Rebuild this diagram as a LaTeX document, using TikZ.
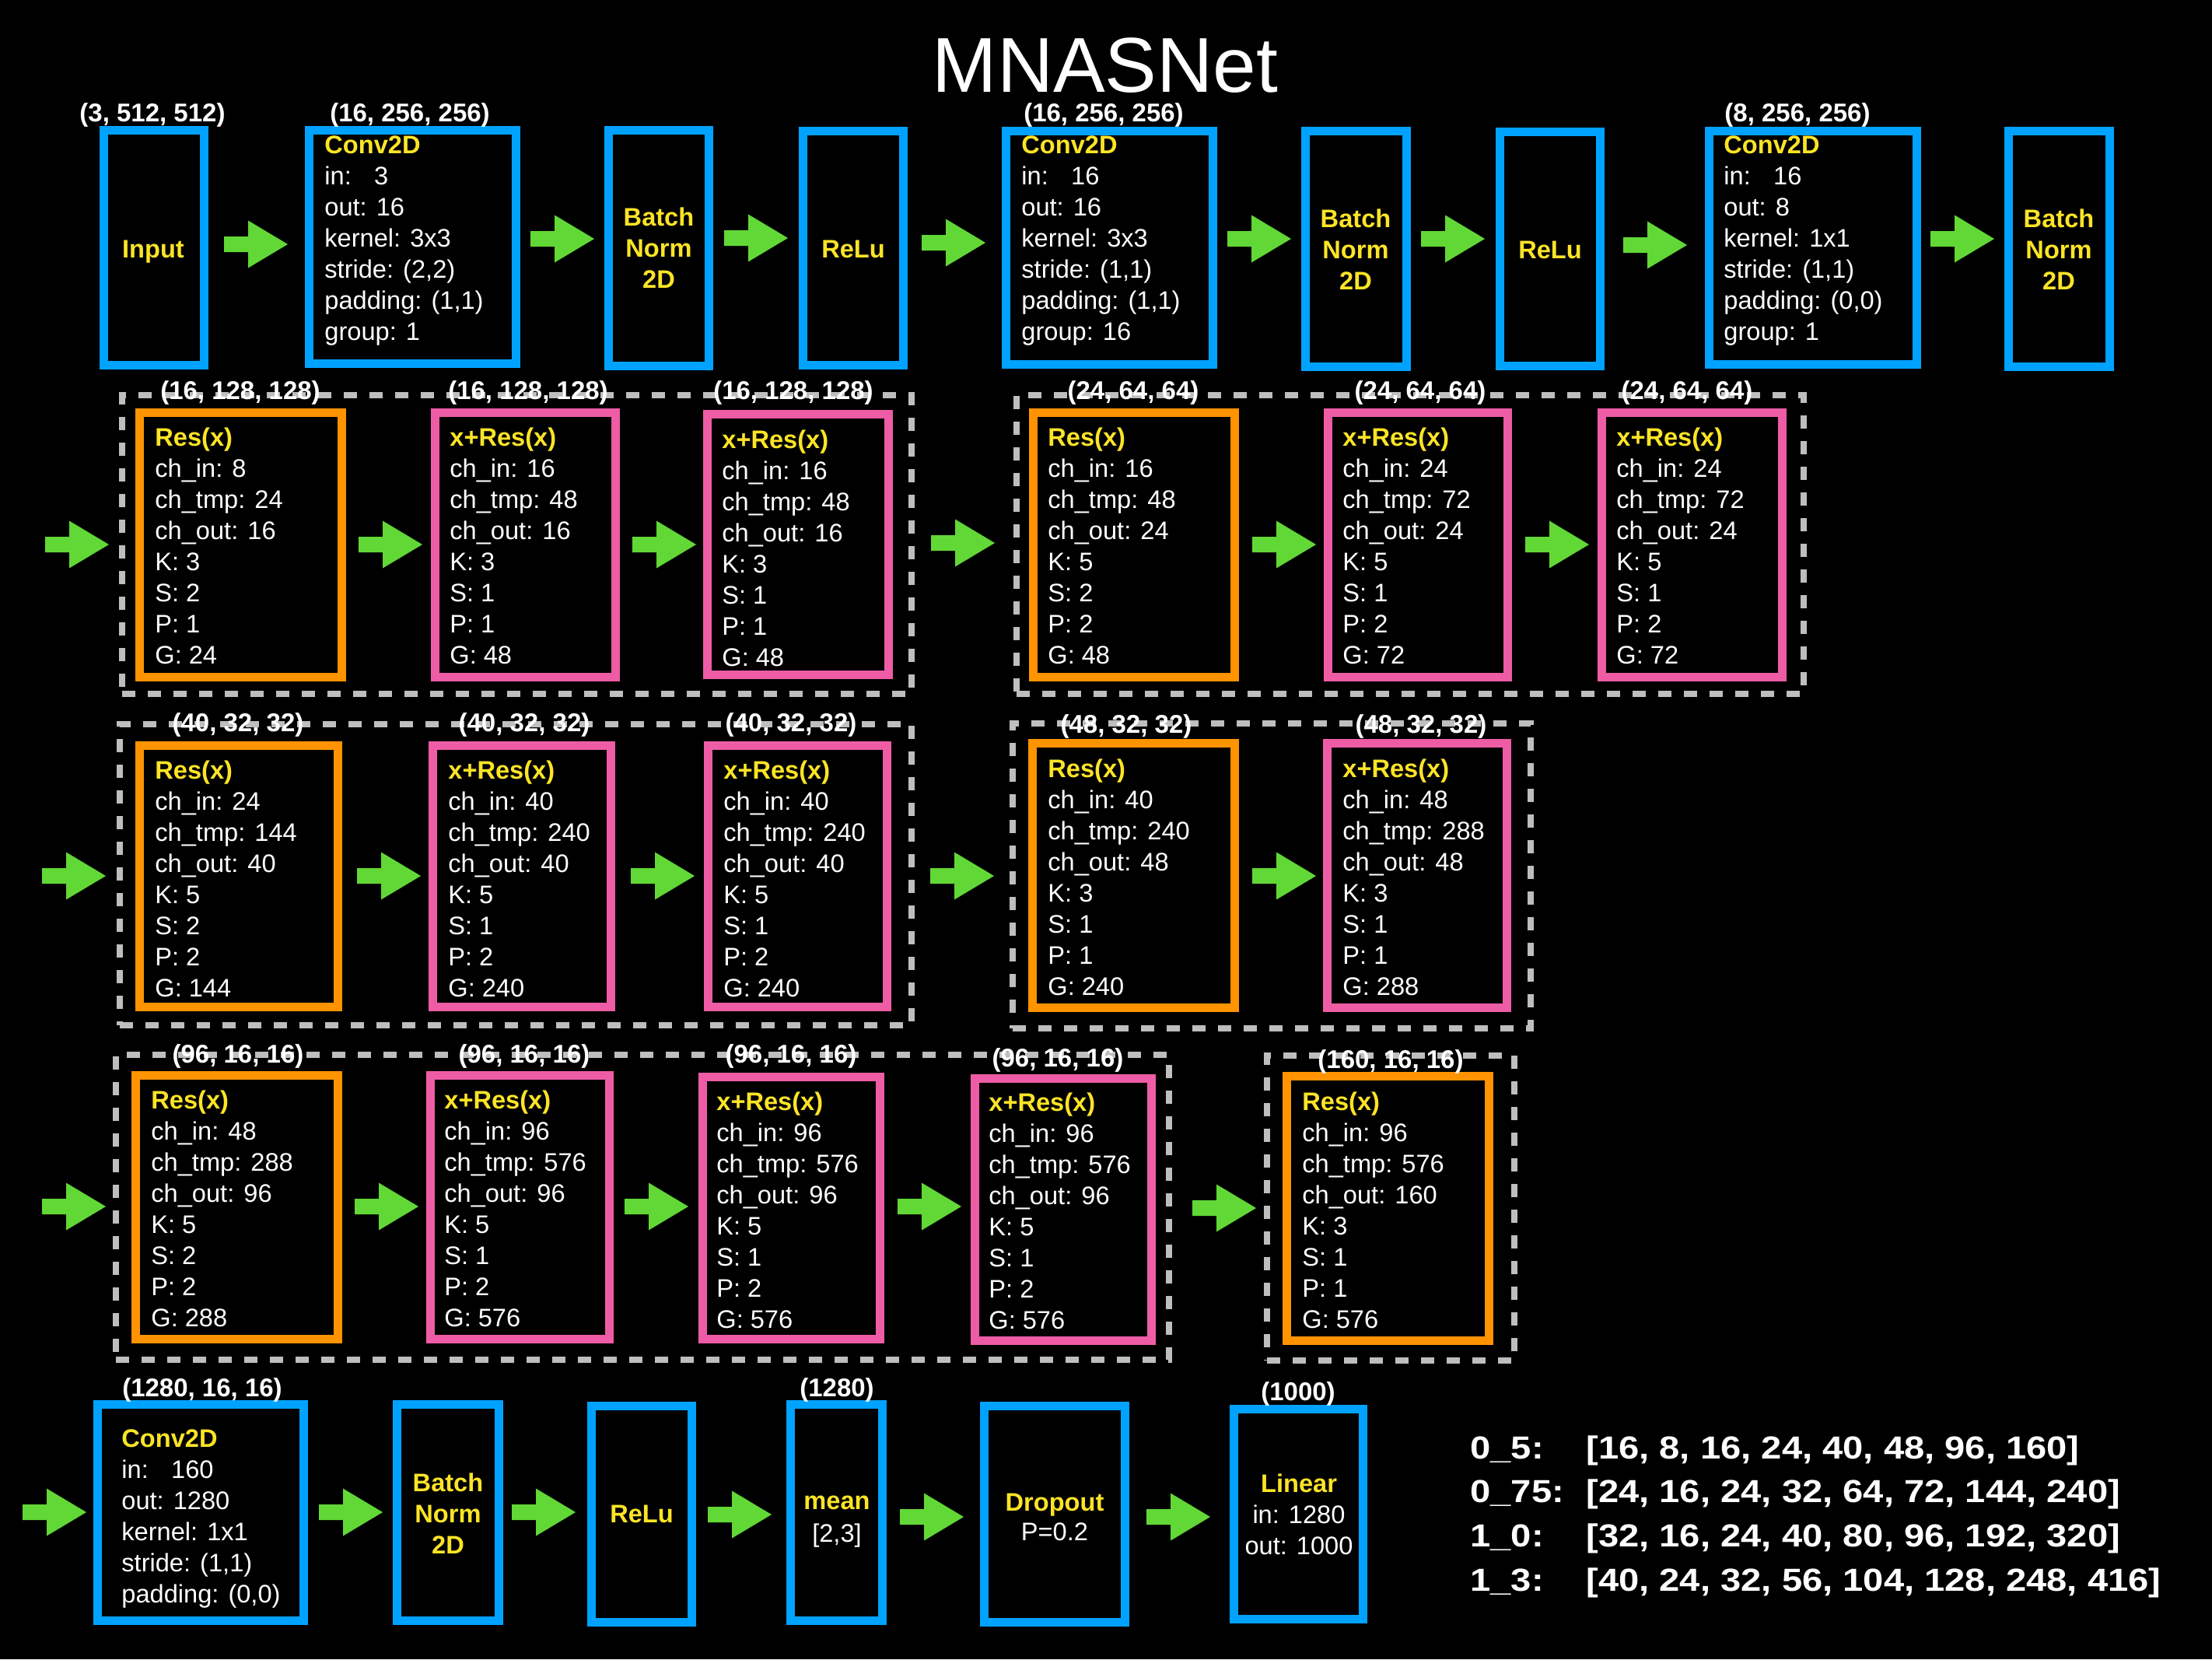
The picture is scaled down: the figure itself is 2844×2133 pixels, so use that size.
\documentclass[tikz,border=0pt]{standalone}
\usepackage{fontspec}
\setmainfont{Liberation Sans}
\newfontfamily\legendfamily[FakeStretch=1.15]{Liberation Sans}

\definecolor{mblue}{RGB}{0,162,255}
\definecolor{morange}{RGB}{255,147,0}
\definecolor{mpink}{RGB}{238,92,166}
\definecolor{myellow}{RGB}{252,228,38}
\definecolor{mgreen}{RGB}{97,216,54}
\definecolor{mgray}{RGB}{190,190,190}

\newcommand\bodyfont{\fontsize{16.3}{20}\selectfont}
\newcommand\lblfont{\fontsize{16.5}{20}\selectfont\bfseries}
\newcommand\hd{\bfseries\color{myellow}}
\newcommand\wt{\mdseries\color{white}}
\newcommand\boxlines[1]{\begin{tabular}[t]{@{}l@{}}#1\end{tabular}}
\newcommand\cboxlines[1]{\begin{tabular}[t]{@{}c@{}}#1\end{tabular}}
% box from outer corners: name, x1, y1, x2, y2, style
\newcommand\mpanel[6]{%
  \node[#6, minimum width={(#4-#2-11)*0.5pt}, minimum height={(#5-#3-11)*0.5pt}]
    (#1) at ({(#2+#4)/2},{(#3+#5)/2}) {};}
% dashed group frame from outer corners
\newcommand\mgroup[5]{%
  \node[groupbox, minimum width={(#4-#2-8)*0.5pt}, minimum height={(#5-#3-8)*0.5pt}]
    (#1) at ({(#2+#4)/2},{(#3+#5)/2}) {};}

\begin{document}
\begin{tikzpicture}[x=0.5pt,y=-0.5pt,
  panel/.style={line width=5.5pt, inner sep=0pt, outer sep=0pt},
  bluebox/.style={panel, draw=mblue},
  orangebox/.style={panel, draw=morange},
  pinkbox/.style={panel, draw=mpink},
  groupbox/.style={draw=mgray, line width=4pt, dash pattern=on 8.5pt off 8pt, inner sep=0pt, outer sep=0pt},
  txt/.style={anchor=base west, inner sep=0pt, text=white, font=\bodyfont},
  ctxt/.style={anchor=base, inner sep=0pt, text=myellow, font=\bodyfont\bfseries},
  lbl/.style={anchor=base, inner sep=0pt, text=white, font=\lblfont},
  blockarrow/.pic={\fill[mgreen] (0,-10) -- (31,-10) -- (31,-30.5) -- (82,0) -- (31,30.5) -- (31,10) -- (0,10) -- cycle;}
]
\fill[black] (0,0) rectangle (2844,2133);
\useasboundingbox (0,0) rectangle (2844,2133);

% title
\node[anchor=base, inner sep=0pt, text=white, font=\fontsize{50}{60}\selectfont] (title) at (1421,118) {MNASNet};

% ---------- dashed stage frames ----------
\mgroup{g2a}{153}{504}{1176}{896}
\mgroup{g2b}{1303}{504}{2323}{896}
\mgroup{g3a}{150}{927}{1176}{1322}
\mgroup{g3b}{1298}{926}{1972}{1326}
\mgroup{g4a}{145}{1352}{1507}{1752}
\mgroup{g4b}{1625}{1353}{1951}{1753}

% ---------- row 1: stem ----------
\mpanel{in0}{128}{162}{268}{475}{bluebox}
\mpanel{conv1}{392}{162}{669}{473}{bluebox}
\mpanel{bn1}{777}{162}{917}{476}{bluebox}
\mpanel{relu1}{1027}{163}{1167}{475}{bluebox}
\mpanel{conv2}{1288}{163}{1565}{474}{bluebox}
\mpanel{bn2}{1673}{163}{1814}{477}{bluebox}
\mpanel{relu2}{1923}{164}{2063}{476}{bluebox}
\mpanel{conv3}{2192}{163}{2470}{474}{bluebox}
\mpanel{bn3}{2577}{163}{2718}{477}{bluebox}

\node[ctxt] (in0t) at (197,331) {Input};
\node[txt] (conv1t) at (417,197) {\boxlines{{\hd Conv2D}\\in:\hspace{0.9em}3\\out: 16\\kernel: 3x3\\stride: (2,2)\\padding: (1,1)\\group: 1}};
\node[ctxt] (bn1t) at (847,290) {\cboxlines{Batch\\Norm\\2D}};
\node[ctxt] (relu1t) at (1097,331) {ReLu};
\node[txt] (conv2t) at (1313,197) {\boxlines{{\hd Conv2D}\\in:\hspace{0.9em}16\\out: 16\\kernel: 3x3\\stride: (1,1)\\padding: (1,1)\\group: 16}};
\node[ctxt] (bn2t) at (1743,292) {\cboxlines{Batch\\Norm\\2D}};
\node[ctxt] (relu2t) at (1993,332) {ReLu};
\node[txt] (conv3t) at (2216,197) {\boxlines{{\hd Conv2D}\\in:\hspace{0.9em}16\\out: 8\\kernel: 1x1\\stride: (1,1)\\padding: (0,0)\\group: 1}};
\node[ctxt] (bn3t) at (2647,292) {\cboxlines{Batch\\Norm\\2D}};

% ---------- row 2 ----------
\mpanel{r2a}{174}{525}{445}{876}{orangebox}
\mpanel{r2b}{554}{525}{797}{876}{pinkbox}
\mpanel{r2c}{904}{527}{1148}{873}{pinkbox}
\mpanel{r2d}{1323}{525}{1593}{876}{orangebox}
\mpanel{r2e}{1702}{525}{1944}{876}{pinkbox}
\mpanel{r2f}{2054}{525}{2297}{876}{pinkbox}

\node[txt] (r2at) at (199,573) {\boxlines{{\hd Res(x)}\\ch\_in: 8\\ch\_tmp: 24\\ch\_out: 16\\K: 3\\S: 2\\P: 1\\G: 24}};
\node[txt] (r2bt) at (578,573) {\boxlines{{\hd x+Res(x)}\\ch\_in: 16\\ch\_tmp: 48\\ch\_out: 16\\K: 3\\S: 1\\P: 1\\G: 48}};
\node[txt] (r2ct) at (928,576) {\boxlines{{\hd x+Res(x)}\\ch\_in: 16\\ch\_tmp: 48\\ch\_out: 16\\K: 3\\S: 1\\P: 1\\G: 48}};
\node[txt] (r2dt) at (1347,573) {\boxlines{{\hd Res(x)}\\ch\_in: 16\\ch\_tmp: 48\\ch\_out: 24\\K: 5\\S: 2\\P: 2\\G: 48}};
\node[txt] (r2et) at (1726,573) {\boxlines{{\hd x+Res(x)}\\ch\_in: 24\\ch\_tmp: 72\\ch\_out: 24\\K: 5\\S: 1\\P: 2\\G: 72}};
\node[txt] (r2ft) at (2078,573) {\boxlines{{\hd x+Res(x)}\\ch\_in: 24\\ch\_tmp: 72\\ch\_out: 24\\K: 5\\S: 1\\P: 2\\G: 72}};

% ---------- row 3 ----------
\mpanel{r3a}{174}{953}{440}{1300}{orangebox}
\mpanel{r3b}{551}{953}{791}{1300}{pinkbox}
\mpanel{r3c}{905}{953}{1146}{1300}{pinkbox}
\mpanel{r3d}{1322}{950}{1593}{1301}{orangebox}
\mpanel{r3e}{1701}{950}{1943}{1301}{pinkbox}

\node[txt] (r3at) at (199,1001) {\boxlines{{\hd Res(x)}\\ch\_in: 24\\ch\_tmp: 144\\ch\_out: 40\\K: 5\\S: 2\\P: 2\\G: 144}};
\node[txt] (r3bt) at (576,1001) {\boxlines{{\hd x+Res(x)}\\ch\_in: 40\\ch\_tmp: 240\\ch\_out: 40\\K: 5\\S: 1\\P: 2\\G: 240}};
\node[txt] (r3ct) at (930,1001) {\boxlines{{\hd x+Res(x)}\\ch\_in: 40\\ch\_tmp: 240\\ch\_out: 40\\K: 5\\S: 1\\P: 2\\G: 240}};
\node[txt] (r3dt) at (1347,999) {\boxlines{{\hd Res(x)}\\ch\_in: 40\\ch\_tmp: 240\\ch\_out: 48\\K: 3\\S: 1\\P: 1\\G: 240}};
\node[txt] (r3et) at (1726,999) {\boxlines{{\hd x+Res(x)}\\ch\_in: 48\\ch\_tmp: 288\\ch\_out: 48\\K: 3\\S: 1\\P: 1\\G: 288}};

% ---------- row 4 ----------
\mpanel{r4a}{169}{1377}{440}{1727}{orangebox}
\mpanel{r4b}{548}{1377}{789}{1727}{pinkbox}
\mpanel{r4c}{898}{1379}{1137}{1727}{pinkbox}
\mpanel{r4d}{1248}{1381}{1486}{1729}{pinkbox}
\mpanel{r4e}{1649}{1378}{1920}{1729}{orangebox}

\node[txt] (r4at) at (194,1425) {\boxlines{{\hd Res(x)}\\ch\_in: 48\\ch\_tmp: 288\\ch\_out: 96\\K: 5\\S: 2\\P: 2\\G: 288}};
\node[txt] (r4bt) at (571,1425) {\boxlines{{\hd x+Res(x)}\\ch\_in: 96\\ch\_tmp: 576\\ch\_out: 96\\K: 5\\S: 1\\P: 2\\G: 576}};
\node[txt] (r4ct) at (921,1427) {\boxlines{{\hd x+Res(x)}\\ch\_in: 96\\ch\_tmp: 576\\ch\_out: 96\\K: 5\\S: 1\\P: 2\\G: 576}};
\node[txt] (r4dt) at (1271,1428) {\boxlines{{\hd x+Res(x)}\\ch\_in: 96\\ch\_tmp: 576\\ch\_out: 96\\K: 5\\S: 1\\P: 2\\G: 576}};
\node[txt] (r4et) at (1674,1427) {\boxlines{{\hd Res(x)}\\ch\_in: 96\\ch\_tmp: 576\\ch\_out: 160\\K: 3\\S: 1\\P: 1\\G: 576}};

% ---------- row 5: head ----------
\mpanel{conv4}{120}{1800}{396}{2089}{bluebox}
\mpanel{bn4}{505}{1800}{647}{2089}{bluebox}
\mpanel{relu3}{755}{1802}{895}{2091}{bluebox}
\mpanel{mean}{1011}{1800}{1140}{2089}{bluebox}
\mpanel{drop}{1260}{1802}{1452}{2091}{bluebox}
\mpanel{linear}{1581}{1806}{1758}{2087}{bluebox}

\node[txt] (conv4t) at (156,1860) {\boxlines{{\hd Conv2D}\\in:\hspace{0.9em}160\\out: 1280\\kernel: 1x1\\stride: (1,1)\\padding: (0,0)}};
\node[ctxt] (bn4t) at (576,1917) {\cboxlines{Batch\\Norm\\2D}};
\node[ctxt] (relu3t) at (825,1957) {ReLu};
\node[ctxt] (meant) at (1076,1940) {\cboxlines{mean\\[1pt]{\wt [2,3]}}};
\node[ctxt] (dropt) at (1356,1942) {\cboxlines{Dropout\\[-1pt]{\wt P=0.2}}};
\node[ctxt] (lineart) at (1670,1918) {\cboxlines{Linear\\{\wt in: 1280}\\{\wt out: 1000}}};

% ---------- tensor shapes ----------
\node[lbl] (s1a) at (196,156) {(3, 512, 512)};
\node[lbl] (s1b) at (527,156) {(16, 256, 256)};
\node[lbl] (s1c) at (1419,156) {(16, 256, 256)};
\node[lbl] (s1d) at (2311,156) {(8, 256, 256)};

\node[lbl] (s2a) at (309,513) {(16, 128, 128)};
\node[lbl] (s2b) at (679,513) {(16, 128, 128)};
\node[lbl] (s2c) at (1020,513) {(16, 128, 128)};
\node[lbl] (s2d) at (1457,513) {(24, 64, 64)};
\node[lbl] (s2e) at (1826,513) {(24, 64, 64)};
\node[lbl] (s2f) at (2169,513) {(24, 64, 64)};

\node[lbl] (s3a) at (306,940) {(40, 32, 32)};
\node[lbl] (s3b) at (674,940) {(40, 32, 32)};
\node[lbl] (s3c) at (1017,940) {(40, 32, 32)};
\node[lbl] (s3d) at (1448,942) {(48, 32, 32)};
\node[lbl] (s3e) at (1827,942) {(48, 32, 32)};

\node[lbl] (s4a) at (306,1366) {(96, 16, 16)};
\node[lbl] (s4b) at (674,1366) {(96, 16, 16)};
\node[lbl] (s4c) at (1017,1366) {(96, 16, 16)};
\node[lbl] (s4d) at (1360,1371) {(96, 16, 16)};
\node[lbl] (s4e) at (1788,1373) {(160, 16, 16)};

\node[lbl] (s5a) at (260,1795) {(1280, 16, 16)};
\node[lbl] (s5b) at (1076,1795) {(1280)};
\node[lbl] (s5c) at (1669,1800) {(1000)};

% ---------- flow arrows ----------
\foreach \ax/\ay in {288/314, 682/307, 931/306, 1185/312, 1578/307, 1827/307, 2087/315, 2482/307,
                     58/700, 461/700, 813/700, 1197/698, 1610/700, 1961/700,
                     54/1126, 459/1126, 811/1126, 1196/1126, 1610/1126,
                     54/1551, 456/1551, 803/1551, 1154/1551, 1533/1553,
                     29/1944, 410/1944, 658/1944, 910/1947, 1157/1950, 1474/1950}
  \pic at (\ax,\ay) {blockarrow};

% ---------- width multipliers ----------
\node[anchor=base west, inner sep=0pt, text=white,
      font=\legendfamily\bfseries\fontsize{20.5}{28.4}\selectfont] (legend) at (1890,1875)
  {\begin{tabular}[t]{@{}p{74.5pt}@{}l@{}}
   0\_5: & [16, 8, 16, 24, 40, 48, 96, 160]\\
   0\_75: & [24, 16, 24, 32, 64, 72, 144, 240]\\
   1\_0: & [32, 16, 24, 40, 80, 96, 192, 320]\\
   1\_3: & [40, 24, 32, 56, 104, 128, 248, 416]
   \end{tabular}};
\end{tikzpicture}
\end{document}
